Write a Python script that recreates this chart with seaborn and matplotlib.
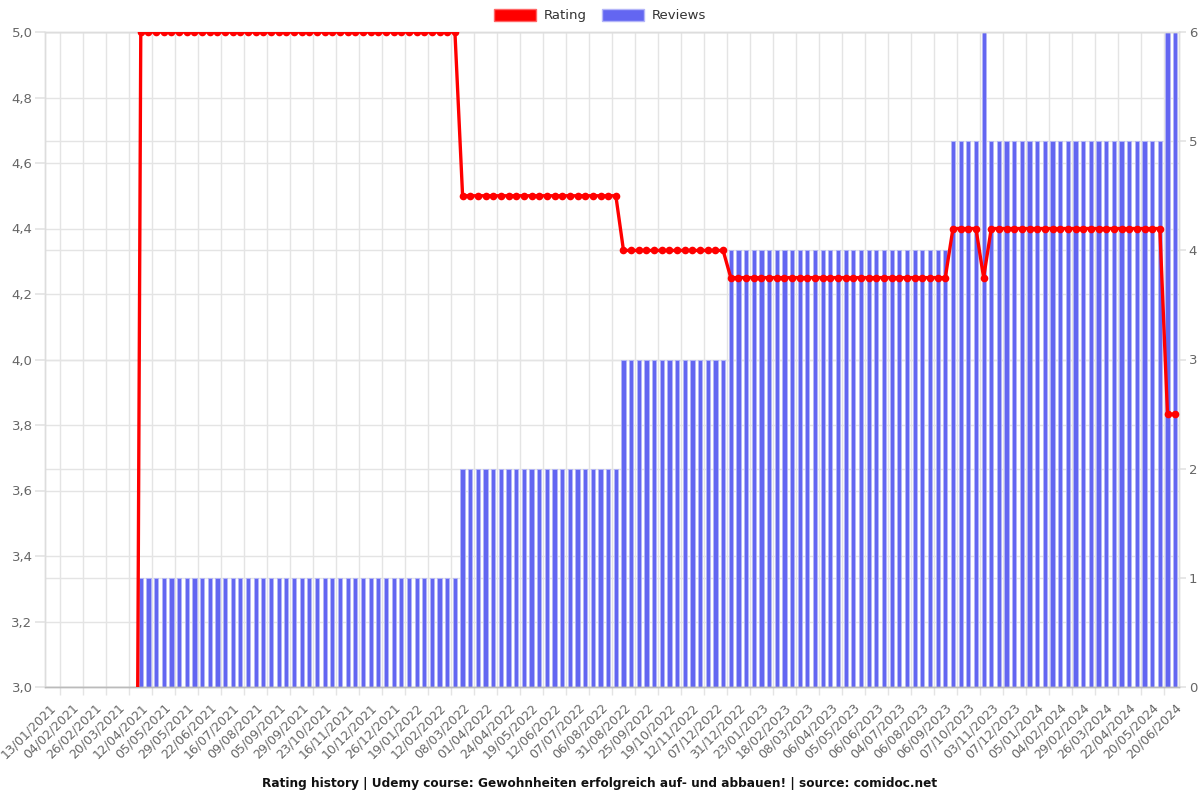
import matplotlib
matplotlib.use("Agg")
import numpy as np
import pandas as pd
import seaborn as sns
import matplotlib.pyplot as plt
from matplotlib.patches import Patch
from matplotlib.ticker import FuncFormatter
from matplotlib.transforms import blended_transform_factory

# tick labels shown on the x axis (every third snapshot)
date_labels = [
    "13/01/2021", "04/02/2021", "26/02/2021", "20/03/2021", "12/04/2021",
    "05/05/2021", "29/05/2021", "22/06/2021", "16/07/2021", "09/08/2021",
    "05/09/2021", "29/09/2021", "23/10/2021", "16/11/2021", "10/12/2021",
    "26/12/2021", "19/01/2022", "12/02/2022", "08/03/2022", "01/04/2022",
    "24/04/2022", "19/05/2022", "12/06/2022", "07/07/2022", "06/08/2022",
    "31/08/2022", "25/09/2022", "19/10/2022", "12/11/2022", "07/12/2022",
    "31/12/2022", "23/01/2023", "18/02/2023", "08/03/2023", "06/04/2023",
    "05/05/2023", "06/06/2023", "04/07/2023", "06/08/2023", "06/09/2023",
    "07/10/2023", "03/11/2023", "07/12/2023", "05/01/2024", "04/02/2024",
    "29/02/2024", "26/03/2024", "22/04/2024", "20/05/2024", "20/06/2024",
]

# average rating per snapshot (0 = no rating yet)
rating = [
    0, 0, 0, 0, 0, 0, 0, 0, 0, 0, 0, 0,
    5.0, 5.0, 5.0, 5.0, 5.0, 5.0, 5.0, 5.0, 5.0, 5.0, 5.0, 5.0, 5.0, 5.0,
    5.0, 5.0, 5.0, 5.0, 5.0, 5.0, 5.0, 5.0, 5.0, 5.0, 5.0, 5.0, 5.0, 5.0,
    5.0, 5.0, 5.0, 5.0, 5.0, 5.0, 5.0, 5.0, 5.0, 5.0, 5.0, 5.0, 5.0, 5.0,
    4.5, 4.5, 4.5, 4.5, 4.5, 4.5, 4.5,
    4.5, 4.5, 4.5, 4.5, 4.5, 4.5, 4.5,
    4.5, 4.5, 4.5, 4.5, 4.5, 4.5, 4.5,
    4.333, 4.333, 4.333, 4.333, 4.333, 4.333, 4.333,
    4.333, 4.333, 4.333, 4.333, 4.333, 4.333, 4.333,
    4.25, 4.25, 4.25, 4.25, 4.25, 4.25, 4.25, 4.25, 4.25, 4.25,
    4.25, 4.25, 4.25, 4.25, 4.25, 4.25, 4.25, 4.25, 4.25, 4.25,
    4.25, 4.25, 4.25, 4.25, 4.25, 4.25, 4.25, 4.25, 4.25,
    4.4, 4.4, 4.4, 4.4, 4.25,
    4.4, 4.4, 4.4, 4.4, 4.4, 4.4, 4.4, 4.4, 4.4, 4.4, 4.4, 4.4,
    4.4, 4.4, 4.4, 4.4, 4.4, 4.4, 4.4, 4.4, 4.4, 4.4, 4.4,
    3.833, 3.833,
]

# number of reviews per snapshot
reviews = [
    0, 0, 0, 0, 0, 0, 0, 0, 0, 0, 0, 0,
    1, 1, 1, 1, 1, 1, 1, 1, 1, 1, 1, 1, 1, 1,
    1, 1, 1, 1, 1, 1, 1, 1, 1, 1, 1, 1, 1, 1,
    1, 1, 1, 1, 1, 1, 1, 1, 1, 1, 1, 1, 1, 1,
    2, 2, 2, 2, 2, 2, 2,
    2, 2, 2, 2, 2, 2, 2,
    2, 2, 2, 2, 2, 2, 2,
    3, 3, 3, 3, 3, 3, 3,
    3, 3, 3, 3, 3, 3, 3,
    4, 4, 4, 4, 4, 4, 4, 4, 4, 4,
    4, 4, 4, 4, 4, 4, 4, 4, 4, 4,
    4, 4, 4, 4, 4, 4, 4, 4, 4,
    5, 5, 5, 5, 6,
    5, 5, 5, 5, 5, 5, 5, 5, 5, 5, 5, 5,
    5, 5, 5, 5, 5, 5, 5, 5, 5, 5, 5,
    6, 6,
]

RED = "#ff0000"
BLUE = "#6366f1"
GRID = "#e4e4e4"
TXT = "#666666"

df = pd.DataFrame({"idx": range(len(rating)), "rating": rating, "reviews": reviews})
n = len(df)

sns.set_theme(style="white")
plt.rcParams["font.family"] = ["DejaVu Sans"]

fig = plt.figure(figsize=(12, 8), dpi=100)
ax_r = fig.add_axes([0.0375, 0.14125, 0.945, 0.81875])
ax = ax_r.twinx()
ax_r.yaxis.tick_right()
ax.yaxis.tick_left()

# reviews bars (right axis)
sns.barplot(data=df, x="idx", y="reviews", ax=ax_r, color=BLUE, saturation=1,
            width=0.55, edgecolor="#b4b6f8", linewidth=0.6, zorder=2)

# rating line (left axis)
sns.lineplot(data=df, x="idx", y="rating", ax=ax, color=RED, linewidth=2.4,
             marker="o", markersize=5.5, markeredgewidth=0, zorder=3)

ax.set_ylim(3, 5)
ax_r.set_ylim(0, 6)
ax_r.set_xlim(-0.5, n - 0.5)

# y ticks
ax.set_yticks(np.arange(3.0, 5.01, 0.2))
ax.yaxis.set_major_formatter(FuncFormatter(lambda v, p: f"{v:.1f}".replace(".", ",")))
ax_r.set_yticks(range(0, 7))
ax.tick_params(axis="y", length=7, color=GRID, labelcolor=TXT, labelsize=9.5, pad=2)
ax_r.tick_params(axis="y", length=5, color=GRID, labelcolor=TXT, labelsize=9.5, pad=2)
ax.set_ylabel("")
ax_r.set_ylabel("")
ax.set_xlabel("")
ax_r.set_xlabel("")

# x ticks: labels every third snapshot, grid between
label_pos = list(range(0, n, 3))
ax_r.set_xticks(label_pos)
ax_r.set_xticklabels(date_labels, rotation=45, ha="right", rotation_mode="anchor",
                     fontsize=9.0, color=TXT)
ax_r.set_xticks([p + 1.5 for p in label_pos[:-1]], minor=True)
ax_r.tick_params(axis="x", which="major", length=0, pad=10)
ax_r.tick_params(axis="x", which="minor", length=6, color=GRID, bottom=True)

# grids drawn under the bars
ax_r.set_axisbelow(True)
ax_r.grid(axis="x", which="minor", color=GRID, linewidth=1)
ax_r.grid(axis="y", which="major", color=GRID, linewidth=1)
ax.grid(False)
tr = blended_transform_factory(ax_r.transAxes, ax.transData)
for v in np.arange(3.0, 5.01, 0.2):
    ax_r.plot([0, 1], [v, v], transform=tr, color=GRID, linewidth=1, zorder=0.5)

for a in (ax, ax_r):
    for s in a.spines.values():
        s.set_color("#dddddd")
        s.set_linewidth(1)
ax_r.spines["bottom"].set_color("#bbbbbb")
ax.spines["bottom"].set_color("#bbbbbb")

fig.legend(handles=[Patch(facecolor=RED, edgecolor="#ff6666"),
                    Patch(facecolor=BLUE, edgecolor="#b4b6f8")],
           labels=["Rating", "Reviews"], loc="upper center",
           bbox_to_anchor=(0.5, 1.004), ncol=2, frameon=False, fontsize=9.5,
           handlelength=3.2, handleheight=1.1, columnspacing=1.1,
           handletextpad=0.6, labelcolor="#333333")

fig.text(0.5, 0.021,
         "Rating history | Udemy course: Gewohnheiten erfolgreich auf- und abbauen! | source: comidoc.net",
         ha="center", va="center", fontsize=8.7, fontweight="bold", color="#111111")

fig.savefig("out.png", dpi=100)
plt.close(fig)
